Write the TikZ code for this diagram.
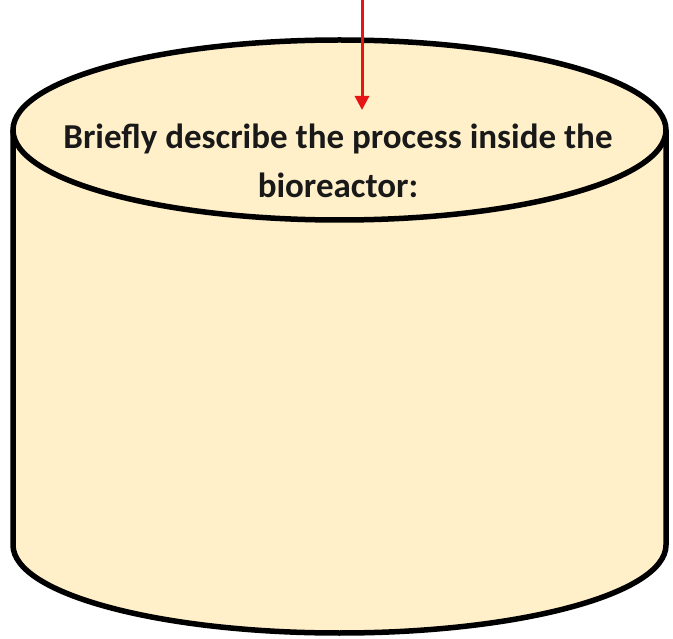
\documentclass[tikz,border=0pt]{standalone}
\usepackage{xcolor}
\usepackage{fontspec}
\setmainfont{Carlito}
\usetikzlibrary{arrows.meta}

\definecolor{tankfill}{RGB}{255,240,201}
\definecolor{feedred}{RGB}{230,20,20}

\begin{document}
\begin{tikzpicture}[x=1pt,y=1pt,yscale=-1,xscale=1]
\useasboundingbox (0,0) rectangle (673,639);

%Cylinder body
    \draw [line width=5.5, fill=tankfill]  (13,130) -- (13,545) arc [start angle=180, end angle=0, x radius=326.5, y radius=88] -- (666,130) ;
%Top ellipse
    \draw [line width=5.5, fill=tankfill]  (339.5,130) ellipse [x radius=326.5, y radius=90] ;

%Feed arrow
    \coordinate (feed) at (362,0);
    \coordinate (feedtip) at (362,110);
    \draw [feedred, line width=3, -{Triangle[length=14, width=14]}]  (feed) -- (feedtip) ;

% Text Node
    \node (label) at (338,161) [font=\fontsize{35}{49}\selectfont\bfseries, align=center, text=black!90] {Briefly describe the process inside the\\bioreactor:};

\end{tikzpicture}
\end{document}
